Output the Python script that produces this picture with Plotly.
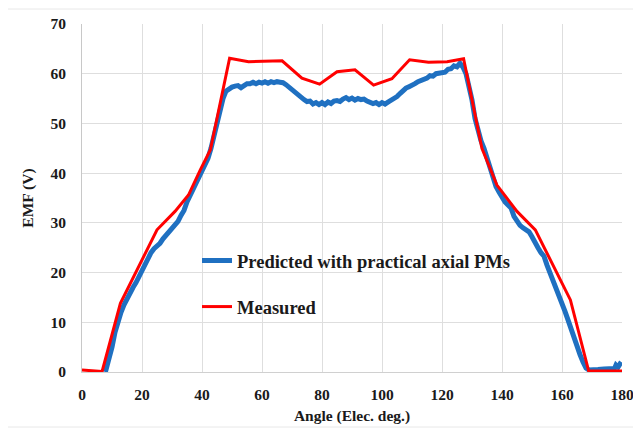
import plotly.graph_objects as go

# ---- data ----
pred_angle = [7.8, 8.5, 10, 11, 12, 13, 14, 15, 16, 17, 18, 19, 20, 21, 22, 23, 24, 25, 26, 27, 28, 29,
              30, 31, 32, 33, 34, 35, 36, 37, 38, 39, 40, 41, 42, 43, 44, 45, 46, 47, 48, 49,
              50, 51, 52, 53, 54, 55, 56, 57, 58, 59, 60, 61, 62, 63, 64, 65, 66, 67, 68, 69,
              70, 71, 72, 73, 74, 75, 76, 77, 78, 79, 80, 81, 82, 83, 84, 85, 86, 87, 88, 89,
              90, 91, 92, 93, 94, 95, 96, 97, 98, 99, 100, 101, 102, 103, 104, 105, 106, 107, 108, 109,
              110, 111, 112, 113, 114, 115, 116, 117, 118, 119, 120, 121, 122, 123, 124, 125, 126, 127, 128, 129,
              130, 131, 132, 133, 134, 135, 136, 137, 138, 139, 140, 141, 142, 143, 144, 145, 146, 147, 148, 149,
              150, 151, 152, 153, 154, 155, 156, 157, 158, 159, 160, 161, 162, 163, 164, 165, 166, 167, 168, 169,
              170, 172, 174, 176, 177.5, 178, 178.7, 179.3, 180]
pred_emf = [0, 1.5, 5, 8, 10.5, 12, 13.5, 14.8, 15.8, 17, 18, 19.3, 20.5, 21.8, 23, 24, 24.8, 25.3, 25.9, 26.8, 27.5, 28.3,
            28.8, 29.5, 30.3, 31.5, 32.5, 34.2, 35.5, 36.8, 38, 39.3, 40.2, 41.5, 43, 45, 47.5, 50.5, 53.5, 55, 56.5, 57,
            57.3, 57.5, 57.6, 57.2, 57.6, 58, 58, 58.3, 58, 58.3, 58.1, 58.4, 58.1, 58.4, 58.2, 58.4, 58.3, 58.2, 57.8, 57.3,
            56.8, 56, 55.5, 55.1, 54.8, 54.4, 54.5, 53.9, 54.2, 53.8, 54.2, 53.8, 54.3, 54, 54.5, 54.6, 54.4, 54.9, 55.2, 54.8,
            55.1, 54.7, 55, 54.8, 54.9, 54.5, 54.1, 54, 54.2, 53.8, 54.2, 53.9, 54.3, 54.6, 55.1, 55.4, 56, 56.6, 57.1, 57.4,
            57.6, 58, 58.4, 58.6, 58.9, 59.1, 59.6, 59.5, 60, 60.1, 60.4, 60.3, 60.9, 61, 61.6, 61.4, 62.1, 61.3, 60, 57.5,
            54.7, 51, 48.5, 46.5, 45, 43, 41, 39, 37.3, 36.2, 35, 34.2, 33.6, 33, 31.3, 30.2, 29.5, 29, 28.6, 28.2,
            27.2, 26.3, 25, 24, 23.3, 21.5, 20, 18.5, 17.2, 15.5, 14, 12.2, 10.5, 8.6, 7, 5, 3.5, 2, 0.8, 0.4,
            0.5, 0.5, 0.6, 0.6, 0.7, 1.4, 1.0, 1.6, 1.3]

meas_angle = [0, 6.7, 12.8, 20, 25, 31, 35.5, 39.4, 42.8, 49.2, 55.5, 66.7, 73.3, 79.2, 85, 91,
              97.2, 103.3, 109.2, 115.5, 121.7, 127.2, 133.3, 138.3, 145, 151.1, 162.8, 168.9, 180]
meas_emf = [0.4, 0.1, 13.8, 22.5, 28.6, 32.3, 35.6, 40.6, 44.7, 63.1, 62.4, 62.6, 59.1, 57.9, 60.4, 60.8,
            57.7, 59.0, 62.8, 62.3, 62.4, 63.0, 45.0, 37.6, 32.3, 28.6, 14.5, 0.2, 0.2]

x_ticks = [0, 20, 40, 60, 80, 100, 120, 140, 160, 180]
y_ticks = [0, 10, 20, 30, 40, 50, 60, 70]

FONT = "Liberation Serif"
TXT = "#1a1a1a"

fig = go.Figure()
fig.add_trace(go.Scatter(x=pred_angle, y=pred_emf, mode="lines",
                         name="Predicted with practical axial PMs", legendgroup="a",
                         line=dict(color="#1f70c1", width=5)))
fig.add_trace(go.Scatter(x=meas_angle, y=meas_emf, mode="lines",
                         name="Measured", legendgroup="b",
                         line=dict(color="#ff0000", width=3)))

# the page body adds an 8 px offset, so the figure is sized to fit inside it
OFF = 8
W, H = 641 - OFF, 436 - 2 * OFF
L, T = 82 - OFF, 24 - OFF
R = W - L - 540
B = H - T - 348
pw, ph = W - L - R, H - T - B

tfont = dict(size=15.5, family=FONT, color=TXT, weight="bold")

fig.update_layout(
    width=W, height=H,
    margin=dict(l=L, r=R, t=T, b=B, autoexpand=False),
    paper_bgcolor="white", plot_bgcolor="white",
    font=dict(family=FONT, color=TXT, size=15, weight="bold"),
    showlegend=True,
    legend=dict(x=(197 - 82) / pw, y=(372 - 242) / ph, xanchor="left", yanchor="top",
                bgcolor="rgba(0,0,0,0)", font=dict(size=18.5, family=FONT, color=TXT, weight="bold"),
                tracegroupgap=19, itemwidth=30, traceorder="grouped"),
    xaxis=dict(range=[0, 180], tickvals=x_ticks, showgrid=True, gridcolor="#dedede", gridwidth=1,
               zeroline=False, showline=True, linecolor="#d0d0d0", linewidth=1,
               ticks="", ticklabelstandoff=8, automargin=False, ticklabeloverflow="allow",
               tickfont=tfont,
               title=dict(text="Angle (Elec. deg.)", standoff=8, font=tfont)),
    yaxis=dict(range=[0, 70], tickvals=y_ticks, showgrid=True, gridcolor="#dedede", gridwidth=1,
               zeroline=False, showline=True, linecolor="#c8c8c8", linewidth=1,
               ticks="", ticklabelstandoff=12, automargin=False,
               tickfont=tfont,
               title=dict(text="EMF (V)", standoff=12, font=tfont)),
    shapes=[dict(type="rect", xref="paper", yref="paper",
                 x0=(6 - 82) / pw, x1=(634 - 82) / pw,
                 y0=(372 - (H - 1 + OFF)) / ph, y1=(372 - 9) / ph,
                 line=dict(color="#e8e8e8", width=1), fillcolor="rgba(0,0,0,0)", layer="below")],
)

fig.write_html("out.html")
